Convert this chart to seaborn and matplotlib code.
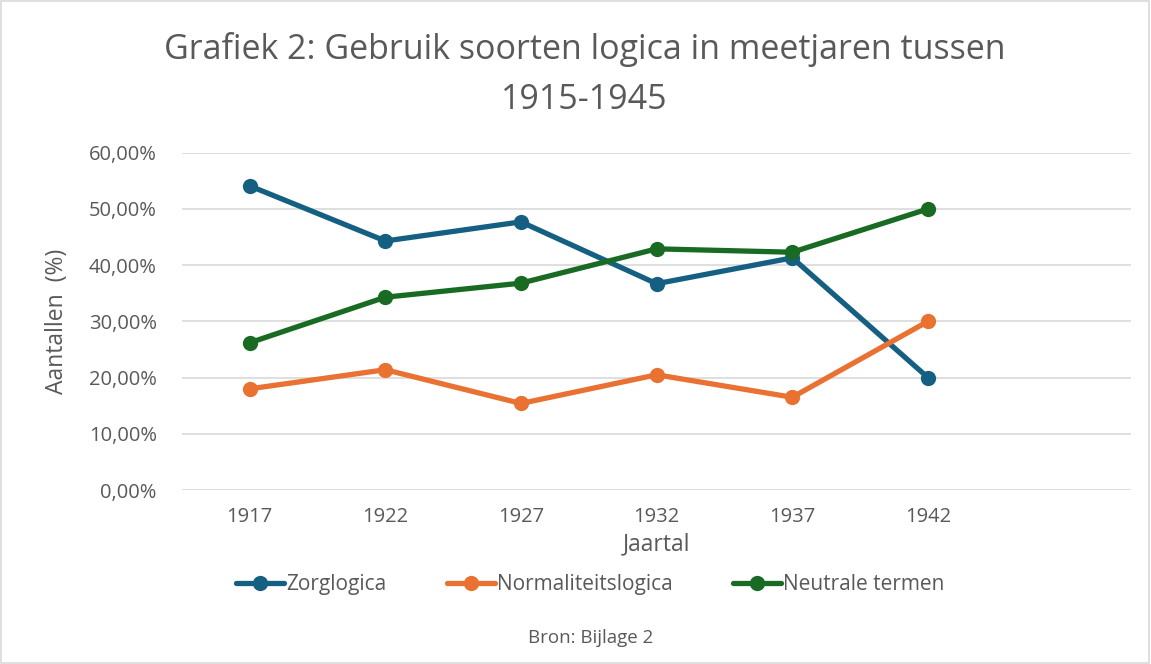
import pandas as pd
import seaborn as sns
import matplotlib.pyplot as plt
from matplotlib.ticker import FuncFormatter
from matplotlib.patches import Rectangle

# data
jaren = ["1917", "1922", "1927", "1932", "1937", "1942"]
zorglogica = [54.1, 44.3, 47.7, 36.7, 41.3, 20.0]
normaliteitslogica = [18.0, 21.4, 15.4, 20.5, 16.5, 30.0]
neutrale_termen = [26.2, 34.3, 36.8, 42.9, 42.3, 50.0]

reeksen = ["Zorglogica", "Normaliteitslogica", "Neutrale termen"]
kleuren = ["#156082", "#E97132", "#196B24"]

df = pd.DataFrame({
    "pos": list(range(len(jaren))) * 3,
    "waarde": zorglogica + normaliteitslogica + neutrale_termen,
    "reeks": [r for r in reeksen for _ in jaren],
})
df["waarde"] = df["waarde"] / 100

sns.set_theme(style="white")
plt.rcParams["font.family"] = ["Open Sans", "DejaVu Sans"]

fig = plt.figure(figsize=(11.51, 6.64), dpi=100)
ax = fig.add_axes([0.158, 0.262, 0.825, 0.508])

sns.lineplot(data=df, x="pos", y="waarde", hue="reeks", hue_order=reeksen,
             palette=kleuren, marker="o", markersize=11, markeredgewidth=0,
             linewidth=3.8, ax=ax)

ax.set_xlim(-0.5, 6.5)
ax.set_ylim(0, 0.6)
ax.set_xticks(range(len(jaren)))
ax.set_xticklabels(jaren)
ax.set_yticks([0, 0.1, 0.2, 0.3, 0.4, 0.5, 0.6])
ax.yaxis.set_major_formatter(FuncFormatter(lambda v, p: f"{v*100:.2f}%".replace(".", ",")))
ax.tick_params(axis="both", labelsize=14.5, colors="#595959", length=0)
ax.tick_params(axis="y", pad=18)
ax.tick_params(axis="x", pad=12)
ax.grid(axis="y", color="#D9D9D9", linewidth=1.2)
ax.set_axisbelow(True)
for s in ax.spines.values():
    s.set_visible(False)

ax.set_xlabel("Jaartal", fontsize=16.5, color="#595959", labelpad=4)
ax.set_ylabel("Aantallen  (%)", fontsize=16.5, color="#595959", labelpad=14)

fig.text(0.508, 0.925, "Grafiek 2: Gebruik soorten logica in meetjaren tussen",
         ha="center", va="center", fontsize=24.5, color="#595959")
fig.text(0.508, 0.850, "1915-1945", ha="center", va="center", fontsize=24.5, color="#595959")

leg = ax.legend(loc="center", ncol=3, frameon=False, fontsize=15, handlelength=2.3,
                columnspacing=2.9, handletextpad=0.1)
leg.set_bbox_to_anchor((0.513, 0.12), transform=fig.transFigure)
for t in leg.get_texts():
    t.set_color("#595959")

fig.text(0.513, 0.039, "Bron: Bijlage 2", ha="center", va="center", fontsize=13.5, color="#595959")

fig.patches.append(Rectangle((0.001, 0.001), 0.997, 0.997, transform=fig.transFigure,
                             fill=False, edgecolor="#D9D9D9", linewidth=1.2))

plt.savefig("out.png", dpi=100)
